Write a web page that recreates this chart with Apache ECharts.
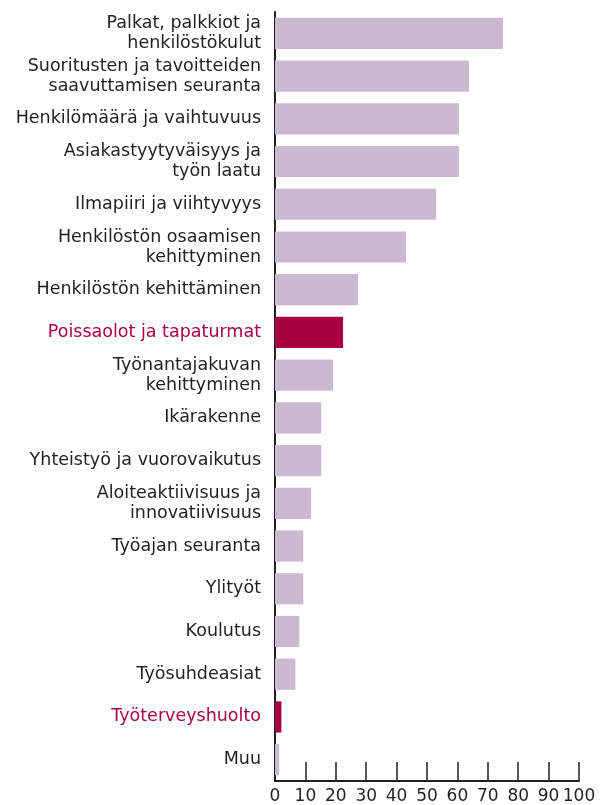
<!DOCTYPE html>
<html>
<head>
<meta charset="utf-8">
<script src="https://cdn.jsdelivr.net/npm/echarts@6/dist/echarts.min.js"></script>
<style>html,body{margin:0;padding:0;background:#fff}#c{width:602px;height:805px}</style>
</head>
<body>
<div id="c"></div>
<script>
const categories = [
  "Palkat, palkkiot ja\nhenkilöstökulut",
  "Suoritusten ja tavoitteiden\nsaavuttamisen seuranta",
  "Henkilömäärä ja vaihtuvuus",
  "Asiakastyytyväisyys ja\ntyön laatu",
  "Ilmapiiri ja viihtyvyys",
  "Henkilöstön osaamisen\nkehittyminen",
  "Henkilöstön kehittäminen",
  "Poissaolot ja tapaturmat",
  "Työnantajakuvan\nkehittyminen",
  "Ikärakenne",
  "Yhteistyö ja vuorovaikutus",
  "Aloiteaktiivisuus ja\ninnovatiivisuus",
  "Työajan seuranta",
  "Ylityöt",
  "Koulutus",
  "Työsuhdeasiat",
  "Työterveyshuolto",
  "Muu"
];
const values = [75, 63.8, 60.5, 60.5, 53, 43.1, 27.3, 22.4, 19.1, 15.2, 15.2, 11.9, 9.3, 9.3, 8, 6.7, 2.1, 1.4];
const highlighted = ["Poissaolot ja tapaturmat", "Työterveyshuolto"];
const xTicks = [0, 10, 20, 30, 40, 50, 60, 70, 80, 90, 100];

const BASE = "#cbb9d2", HL = "#a6003f", TXT = "#231f20", HLT = "#a8004a";

const chart = echarts.init(document.getElementById('c'), null, {renderer: 'canvas'});
chart.setOption({
  animation: false,
  backgroundColor: '#fff',
  grid: {left: 275, right: 23, top: 12, bottom: 24, containLabel: false},
  xAxis: {
    type: 'value', min: xTicks[0], max: xTicks[xTicks.length - 1], interval: 10,
    axisLine: {show: true, lineStyle: {color: TXT, width: 2}},
    axisTick: {show: true, inside: true, length: 19, lineStyle: {color: TXT, width: 1.5}},
    splitLine: {show: false},
    axisLabel: {color: TXT, fontSize: 17, fontFamily: 'DejaVu Sans', margin: 7}
  },
  yAxis: {
    type: 'category', data: categories, inverse: true,
    axisLine: {show: true, lineStyle: {color: TXT, width: 2}},
    axisTick: {show: false},
    axisLabel: {
      fontFamily: 'DejaVu Sans', fontSize: 17.5, lineHeight: 20, margin: 14, align: 'right',
      color: function (v) { return highlighted.indexOf(v) >= 0 ? HLT : TXT; }
    }
  },
  series: [{
    type: 'bar',
    barCategoryGap: '27%',
    data: values.map((v, i) => ({
      value: v,
      itemStyle: {color: highlighted.indexOf(categories[i]) >= 0 ? HL : BASE}
    }))
  }]
});
</script>
</body>
</html>
